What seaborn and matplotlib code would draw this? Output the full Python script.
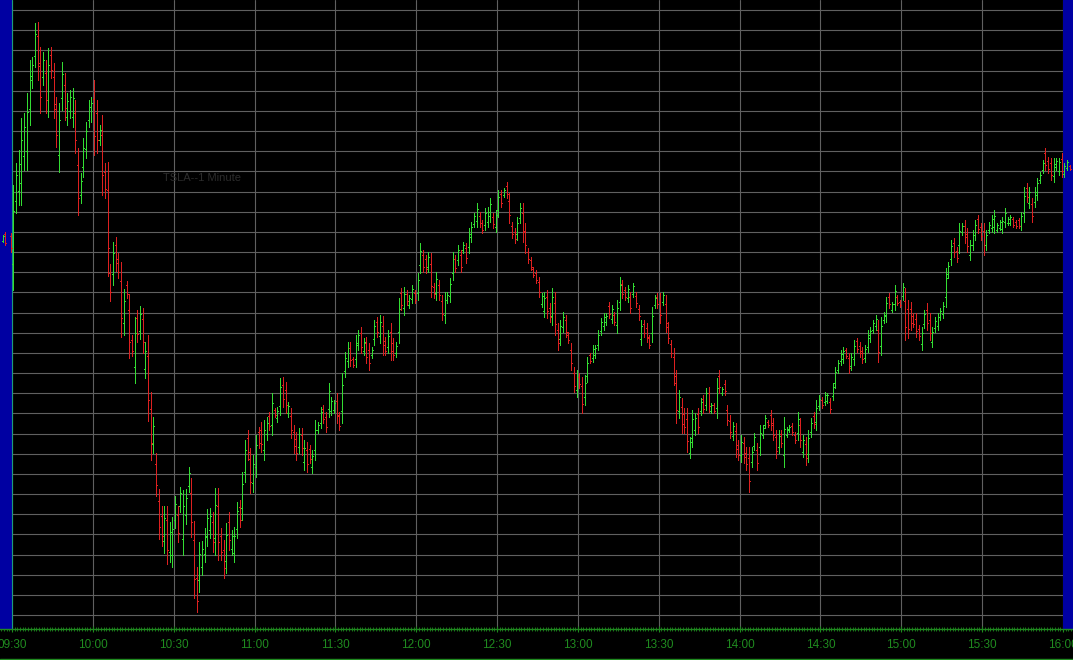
import numpy as np
import pandas as pd
import matplotlib
matplotlib.use("Agg")
import matplotlib.pyplot as plt
import seaborn as sns
from matplotlib.lines import Line2D
from matplotlib.ticker import MultipleLocator

# ---------------- data (1-minute OHLC, price in chart units) ----------------
high = [
    465, 487, 500, 532, 537, 557, 590, 593, 627, 628, 603, 598, 590, 602, 603, 587, 553, 547, 588, 577,
    557, 560, 562, 550, 502, 477, 512, 528, 550, 553, 570, 550, 525, 535, 487, 488,
    386, 408, 413, 397, 388, 361, 369, 356, 315, 333, 340, 344, 342, 308, 315, 258, 233, 197, 161, 144,
    144, 144, 128, 133, 154, 144, 163, 160, 161, 183, 172, 129, 83, 108, 109, 122, 141,
    142, 138, 162, 162, 122, 110, 127, 138, 120, 123, 148, 150, 178, 210, 220, 202, 195, 215, 223, 228,
    230, 233, 238, 257, 242, 243, 272, 273, 268, 248, 242, 225, 218, 222, 222, 210, 208, 205, 200, 230,
    228, 243, 245, 238, 267,
    253, 250, 257, 238, 277, 298, 308, 308, 293, 315, 320, 323, 312, 313, 307, 303, 330, 333, 335, 334,
    313, 320, 327, 312, 308, 352, 362, 363, 360, 355, 365, 360, 377, 407, 400, 395, 398,
    397, 367, 378, 370, 355, 358, 358, 372, 398, 395, 405, 400, 408, 407, 422, 428, 437, 447, 438, 430,
    442, 443, 452, 437, 440, 460, 460, 462, 468, 457, 428, 422, 433, 447, 447, 427, 402, 393, 383, 380,
    373, 357, 358, 360, 347, 362, 358, 327,
    330, 338, 335, 318, 307, 283, 280, 277, 273, 275, 293, 297, 305, 305, 320, 332, 337, 337, 348, 345,
    338, 350, 373, 370, 363, 365, 358, 367, 358, 345, 330, 330, 327, 315, 343, 355, 357, 357, 358, 355,
    328, 310, 302, 280,
    260, 252, 242, 242, 213, 240, 237, 242, 252, 255, 262, 263, 247, 247, 272, 280, 263, 270, 245, 235,
    228, 227, 210, 215, 213, 203, 203, 203, 217, 207, 225, 225, 235, 230, 240, 232, 220, 220, 220, 233,
    223, 225, 227, 218, 238, 232, 215, 213, 220, 232, 238, 250, 255,
    253, 258, 257, 252, 267, 283, 290, 300, 303, 302, 297, 297, 310, 312, 308, 303, 305, 320, 323, 330,
    335, 330, 333, 338, 353, 357, 348, 365, 355, 350, 367, 362, 350, 348, 337, 337, 325, 323, 340, 347,
    337, 323, 333, 337, 342, 348, 382, 388,
    410, 412, 403, 427, 427, 430, 422, 410, 420, 430, 435, 427, 427, 420, 428, 435, 440, 427, 430, 433,
    442, 433, 435, 433, 430, 432, 438, 463, 467, 463, 452, 463, 472, 478, 490, 502, 493, 492, 492, 492,
    492, 497,
]
low = [
    360, 437, 445, 445, 480, 480, 525, 562, 583, 570, 537, 565, 537, 533, 572, 532, 503, 478, 540, 530,
    525, 532, 523, 497, 435, 447, 473, 492, 523, 528, 495, 497, 505, 455, 452, 374,
    349, 365, 379, 372, 313, 315, 352, 292, 294, 267, 308, 311, 297, 272, 229, 190, 197, 154, 111, 104,
    97, 86, 88, 83, 122, 108, 138, 95, 126, 158, 113, 52, 38, 58, 75, 88, 104,
    112, 98, 95, 90, 90, 72, 77, 100, 95, 88, 112, 123, 130, 168, 190, 157, 158, 173, 202, 198,
    190, 210, 220, 215, 233, 228, 235, 243, 237, 233, 212, 197, 190, 197, 195, 180, 178, 187, 177, 190,
    217, 222, 227, 218, 233,
    235, 237, 227, 220, 227, 273, 283, 284, 283, 283, 300, 297, 295, 287, 280, 292, 305, 313, 307, 295,
    295, 297, 290, 290, 293, 307, 340, 335, 345, 342, 347, 347, 350, 377, 378, 377, 378,
    353, 352, 350, 350, 330, 327, 347, 348, 370, 378, 385, 378, 397, 387, 397, 408, 423, 423, 423, 417,
    420, 423, 428, 422, 418, 433, 443, 453, 452, 427, 412, 407, 410, 427, 408, 397, 387, 380, 373, 367,
    353, 343, 333, 332, 328, 325, 315, 300,
    305, 318, 313, 307, 280, 258, 253, 262, 237, 245, 268, 287, 288, 292, 300, 315, 320, 325, 332, 327,
    325, 317, 340, 352, 350, 348, 337, 353, 343, 330, 305, 313, 308, 302, 308, 342, 342, 327, 345, 318,
    307, 293, 265, 227,
    232, 217, 217, 198, 192, 203, 215, 217, 235, 237, 240, 238, 237, 237, 232, 257, 255, 255, 225, 212,
    210, 193, 190, 188, 187, 180, 158, 183, 200, 180, 195, 212, 222, 223, 220, 210, 192, 197, 203, 183,
    213, 218, 215, 207, 210, 203, 193, 185, 188, 213, 222, 220, 240,
    242, 245, 247, 237, 250, 262, 277, 285, 287, 292, 277, 280, 285, 298, 293, 287, 288, 298, 308, 317,
    320, 288, 295, 327, 328, 342, 338, 340, 345, 343, 350, 310, 312, 320, 323, 313, 310, 300, 322, 320,
    310, 303, 318, 320, 330, 332, 343, 372,
    385, 393, 388, 397, 415, 407, 398, 390, 400, 410, 417, 410, 395, 400, 417, 418, 417, 418, 420, 417,
    423, 425, 425, 423, 422, 422, 420, 428, 448, 442, 428, 443, 450, 467, 477, 480, 477, 470, 468, 480,
    475, 473,
]
open_ = [
    386, 449, 459, 467, 494, 499, 541, 570, 594, 614, 587, 573, 577, 550, 595, 573, 541, 495, 552, 565,
    533, 539, 533, 537, 485, 455, 483, 501, 530, 534, 551, 537, 510, 515, 478, 460,
    377, 376, 405, 391, 369, 327, 365, 340, 310, 283, 332, 319, 331, 281, 294, 241, 206, 186, 149, 134,
    109, 130, 98, 95, 130, 135, 144, 111, 135, 164, 157, 110, 72, 70, 83, 96, 113,
    120, 128, 112, 144, 114, 100, 89, 128, 101, 97, 121, 143, 142, 178, 212, 191, 167, 183, 218, 220,
    200, 216, 234, 225, 240, 232, 244, 265, 260, 237, 234, 218, 211, 203, 215, 188, 200, 201, 183, 200,
    220, 227, 241, 233, 241,
    239, 240, 249, 234, 239, 279, 289, 302, 291, 291, 305, 317, 299, 307, 300, 295, 311, 328, 314, 324,
    309, 303, 318, 307, 297, 318, 357, 342, 356, 345, 351, 357, 357, 385, 395, 391, 383,
    386, 363, 357, 365, 349, 335, 350, 354, 377, 391, 390, 395, 400, 402, 403, 413, 426, 429, 434, 427,
    425, 428, 434, 433, 423, 440, 456, 455, 464, 449, 424, 418, 416, 432, 437, 419, 398, 390, 381, 377,
    368, 346, 339, 353, 342, 334, 347, 320,
    311, 323, 330, 315, 300, 277, 260, 273, 264, 253, 274, 295, 292, 295, 305, 319, 324, 328, 344, 331,
    335, 325, 348, 366, 360, 352, 353, 356, 354, 341, 311, 326, 322, 312, 317, 345, 353, 349, 348, 346,
    323, 306, 293, 267,
    239, 243, 236, 231, 197, 212, 220, 236, 239, 251, 245, 257, 239, 245, 242, 274, 257, 266, 240, 229,
    214, 219, 205, 195, 207, 197, 192, 188, 204, 200, 203, 215, 225, 228, 235, 227, 213, 203, 216, 195,
    215, 220, 224, 215, 217, 225, 198, 206, 196, 218, 234, 228, 244,
    250, 248, 249, 248, 254, 267, 280, 289, 291, 300, 292, 284, 291, 309, 304, 299, 292, 303, 312, 320,
    324, 320, 304, 330, 334, 353, 340, 346, 353, 348, 354, 349, 341, 341, 334, 331, 321, 306, 326, 340,
    330, 308, 322, 324, 333, 336, 353, 376,
    391, 407, 399, 405, 418, 424, 416, 395, 405, 415, 431, 423, 419, 405, 420, 422, 423, 420, 422, 421,
    428, 427, 427, 431, 428, 430, 424, 437, 462, 447, 446, 448, 455, 470, 480, 497, 489, 487, 474, 483,
    479, 491,
]
close = [
    439, 475, 486, 510, 523, 538, 574, 585, 616, 584, 553, 590, 550, 585, 580, 546, 515, 530, 576, 542,
    549, 553, 552, 510, 452, 469, 502, 519, 543, 547, 514, 510, 520, 475, 461, 402,
    358, 397, 387, 378, 332, 349, 356, 308, 299, 317, 316, 336, 308, 299, 250, 207, 224, 165, 123, 114,
    132, 100, 118, 121, 146, 117, 157, 144, 152, 177, 128, 71, 49, 96, 101, 114, 132,
    134, 108, 145, 108, 98, 82, 115, 110, 114, 114, 139, 130, 166, 200, 198, 168, 186, 205, 207, 206,
    220, 227, 224, 247, 235, 239, 263, 251, 245, 244, 220, 204, 197, 216, 202, 202, 186, 191, 194, 220,
    225, 238, 231, 223, 259,
    249, 247, 235, 224, 265, 292, 302, 290, 285, 307, 315, 303, 308, 293, 287, 300, 324, 318, 328, 305,
    299, 314, 299, 295, 304, 341, 345, 356, 349, 352, 361, 350, 370, 399, 383, 381, 393,
    364, 356, 371, 355, 336, 350, 355, 366, 391, 382, 400, 383, 405, 392, 416, 423, 434, 441, 427, 420,
    437, 438, 446, 426, 435, 453, 447, 460, 456, 435, 416, 411, 427, 442, 418, 405, 391, 383, 375, 370,
    358, 354, 352, 339, 333, 353, 326, 307,
    324, 333, 318, 310, 287, 264, 273, 266, 246, 267, 287, 289, 301, 302, 315, 328, 333, 334, 336, 341,
    328, 342, 365, 356, 353, 361, 342, 364, 347, 334, 324, 317, 313, 305, 334, 352, 346, 335, 355, 327,
    312, 297, 274, 240,
    253, 226, 223, 209, 208, 231, 232, 223, 248, 241, 257, 244, 245, 239, 262, 263, 261, 259, 230, 218,
    224, 201, 195, 208, 193, 186, 169, 198, 213, 187, 217, 222, 232, 225, 225, 215, 199, 214, 207, 221,
    221, 223, 218, 210, 231, 210, 210, 192, 212, 227, 226, 242, 251,
    245, 255, 255, 241, 263, 278, 287, 296, 299, 294, 282, 293, 304, 301, 297, 291, 301, 315, 319, 327,
    331, 298, 324, 335, 347, 346, 346, 359, 347, 345, 363, 323, 321, 327, 326, 319, 314, 317, 336, 327,
    317, 318, 329, 333, 339, 344, 372, 384,
    404, 398, 392, 419, 424, 413, 404, 405, 415, 425, 421, 414, 403, 415, 425, 431, 434, 425, 428, 429,
    437, 431, 433, 425, 424, 424, 434, 454, 453, 458, 434, 458, 467, 475, 487, 485, 481, 475, 486, 489,
    488, 479,
]

# extended-hours bars (minutes relative to 09:30)
pre_minute = [-4, -3, -1]
pre_high = [415, 418, 417]
pre_low = [408, 405, 398]
pre_open = [409, 416, 414]
pre_close = [414, 407, 402]

post_minute = [390, 391, 392]
post_high = [487, 490, 485]
post_low = [473, 480, 480]
post_open = [476, 482, 484]
post_close = [484, 488, 481]

time_labels = ["09:30", "10:00", "10:30", "11:00", "11:30", "12:00", "12:30", "13:00",
               "13:30", "14:00", "14:30", "15:00", "15:30", "16:00"]
chart_title = "TSLA--1 Minute"

# ---------------- build long-form segment table ----------------
minute = np.concatenate([pre_minute, np.arange(len(high)), post_minute]).astype(float)
H = np.concatenate([pre_high, high, post_high])
L = np.concatenate([pre_low, low, post_low])
O = np.concatenate([pre_open, open_, post_open])
C = np.concatenate([pre_close, close, post_close])

rows = []
for i, (m, h, l, o, c) in enumerate(zip(minute, H, L, O, C)):
    xc = m + 0.5
    d = "up" if c >= o else "down"
    rows += [(3 * i, xc, l, d), (3 * i, xc, h, d),
             (3 * i + 1, xc - 0.37, o, d), (3 * i + 1, xc, o, d),
             (3 * i + 2, xc, c, d), (3 * i + 2, xc + 0.37, c, d)]
df = pd.DataFrame(rows, columns=["seg", "minute", "price", "dir"])

# ---------------- style ----------------
GREEN = "#33dd33"
RED = "#dd2020"
GRID = "#606060"
AXIS_GREEN = "#1f8a1f"
BLUE = "#0000a2"

sns.set_theme(style="dark", rc={
    "axes.facecolor": "black",
    "figure.facecolor": "black",
    "savefig.facecolor": "black",
})
plt.rcParams["font.family"] = ["Liberation Sans", "DejaVu Sans"]

W, Hpx = 1073, 660
fig = plt.figure(figsize=(W / 100, Hpx / 100), dpi=100)
ax = fig.add_axes([0, 31 / Hpx, 1, 629 / Hpx])
ax.set_facecolor("black")

x_left, x_right = -12 / 2.695, 390 + 10 / 2.695
ax.set_xlim(x_left, x_right)
ax.set_ylim(21, 650)

# session bands
ax.axvspan(x_left, 0, color=BLUE, zorder=1, lw=0)
ax.axvspan(390, x_right, color=BLUE, zorder=1, lw=0)

# grid
ax.set_axisbelow(True)
ax.set_yticks(np.linspace(35, 640, 31))
ax.set_xticks(np.arange(0, 391, 30))
ax.grid(True, color=GRID, lw=0.8, ls="-")
ax.axvline(0, color="#1c9c7c", lw=0.8, zorder=1.2)

# bars
sns.lineplot(data=df, x="minute", y="price", units="seg", estimator=None,
             hue="dir", palette={"up": GREEN, "down": RED}, legend=False,
             sort=False, linewidth=0.6, antialiased=False, ax=ax, zorder=3)

ax.set_xlim(x_left, x_right)
ax.set_ylim(21, 650)

# axes styling
for s in ["top", "left", "right"]:
    ax.spines[s].set_visible(False)
ax.spines["bottom"].set_color(AXIS_GREEN)
ax.spines["bottom"].set_linewidth(1.0)
ax.set_xlabel("")
ax.set_ylabel("")
ax.set_xticklabels(time_labels)
ax.tick_params(axis="y", left=False, labelleft=False)
ax.xaxis.set_minor_locator(MultipleLocator(1))
ax.tick_params(axis="x", which="major", bottom=True, direction="inout", length=5,
               width=0.8, color=AXIS_GREEN, labelcolor=AXIS_GREEN, labelsize=8.5, pad=5)
ax.tick_params(axis="x", which="minor", bottom=True, direction="inout", length=2.5,
               width=0.6, color=AXIS_GREEN)
ax.grid(False, which="minor")

ax.text(56, 472, chart_title, color="#2c2c2c", fontsize=8, ha="left", va="center", zorder=2)

fig.add_artist(Line2D([0, 1], [1.5 / Hpx, 1.5 / Hpx], color=AXIS_GREEN, lw=1.0))

fig.savefig("out.png", dpi=100, facecolor="black")
